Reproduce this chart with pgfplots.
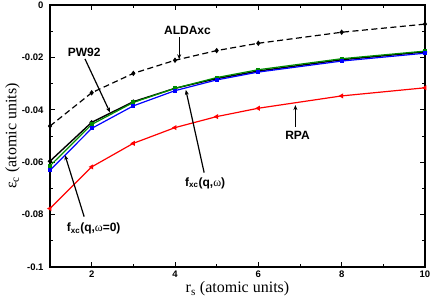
\documentclass[border=0pt]{standalone}
\usepackage{fontspec}
\setmainfont{Liberation Sans}
\newfontfamily\serif{Liberation Serif}
\usepackage{pgfplots}
\pgfplotsset{compat=1.18}
\usetikzlibrary{arrows.meta}
\definecolor{ggreen}{RGB}{0,140,0}
\newcommand{\annot}{\fontsize{12}{14}\selectfont\bfseries}
\begin{document}
\begin{tikzpicture}
\useasboundingbox (0,0) rectangle (432pt,302pt);
\begin{axis}[
  at={(50pt,35pt)}, anchor=south west,
  scale only axis, width=375pt, height=262pt,
  xmin=1, xmax=10, ymin=-0.1, ymax=0,
  xtick={2,4,6,8,10}, minor xtick={1,3,5,7,9},
  ytick={-0.1,-0.08,-0.06,-0.04,-0.02,0},
  minor ytick={-0.09,-0.07,-0.05,-0.03,-0.01},
  tick align=inside, major tick length=5pt, minor tick length=3pt,
  axis line style={line width=1.2pt},
  every tick/.style={black, line width=0.8pt},
  scaled y ticks=false,
  yticklabel style={/pgf/number format/fixed, /pgf/number format/precision=2, xshift=-3pt},
  /pgf/number format/assume math mode=true,
  ticklabel style={font=\fontsize{9.5}{11}\selectfont\bfseries},
  xlabel={\serif\fontsize{16}{18}\selectfont r\textsubscript{s} (atomic units)},
  xlabel style={at={(axis description cs:0.5,0)}, anchor=base, yshift=-26pt},
  ylabel={\serif\fontsize{16}{18}\selectfont ε\textsubscript{c} (atomic units)},
  ylabel style={at={(axis description cs:-0.090,0.5)}, anchor=base},
  clip=false,
]
% ALDAxc
\addplot[black, line width=1.2pt, dash pattern=on 6pt off 3.5pt, mark=diamond*, mark size=1.8pt, mark options={solid}]
 coordinates {(1,-0.0462) (2,-0.0335) (3,-0.0261) (4,-0.0211) (5,-0.0174) (6,-0.0146) (8,-0.0104) (10,-0.0073)};
% PW92
\addplot[black, line width=1.4pt, mark=*, mark size=1.4pt]
 coordinates {(1,-0.0596) (2,-0.0448) (3,-0.0369) (4,-0.0318) (5,-0.0281) (6,-0.0252) (8,-0.0209) (10,-0.0179)};
% fxc(q,w=0)
\addplot[ggreen, line width=1.2pt, mark=square*, mark size=1.4pt]
 coordinates {(1,-0.0614) (2,-0.0456) (3,-0.0372) (4,-0.0318) (5,-0.0277) (6,-0.0247) (8,-0.0205) (10,-0.0176)};
% fxc(q,w)
\addplot[blue, line width=1.2pt, mark=square*, mark size=1.4pt]
 coordinates {(1,-0.0631) (2,-0.0471) (3,-0.0385) (4,-0.0327) (5,-0.0286) (6,-0.0256) (8,-0.0214) (10,-0.0184)};
% RPA
\addplot[red, line width=1.2pt, mark=triangle*, mark size=1.8pt, mark options={rotate=90}]
 coordinates {(1,-0.0777) (2,-0.0618) (3,-0.0528) (4,-0.0468) (5,-0.0426) (6,-0.0394) (8,-0.0347) (10,-0.0316)};

\tikzset{arr/.style={black, line width=1.2pt, -{Stealth[length=5pt,width=4pt]}}}
\node[font=\annot] at (axis cs:4.30,-0.0098) {ALDAxc};
\draw[arr] (axis cs:4.10,-0.0123) -- (axis cs:4.10,-0.0207);
\node[font=\annot] at (axis cs:1.82,-0.0181) {PW92};
\draw[arr] (axis cs:1.84,-0.0206) -- (axis cs:2.44,-0.0410);
\node[font=\annot] at (axis cs:6.94,-0.0496) {RPA};
\draw[arr] (axis cs:6.89,-0.0464) -- (axis cs:6.89,-0.0382);
\node[font=\annot, anchor=base west, inner sep=0pt] at (axis cs:4.24,-0.0691) {f\textsubscript{xc}(q,{\serif\mdseries ω})};
\draw[arr] (axis cs:4.70,-0.0640) -- (axis cs:4.26,-0.0324);
\node[font=\annot, anchor=base west, inner sep=0pt] at (axis cs:1.40,-0.0865) {f\textsubscript{xc}(q,{\serif\mdseries ω}=0)};
\draw[arr] (axis cs:1.82,-0.0808) -- (axis cs:1.36,-0.0573);
\end{axis}
\end{tikzpicture}
\end{document}
